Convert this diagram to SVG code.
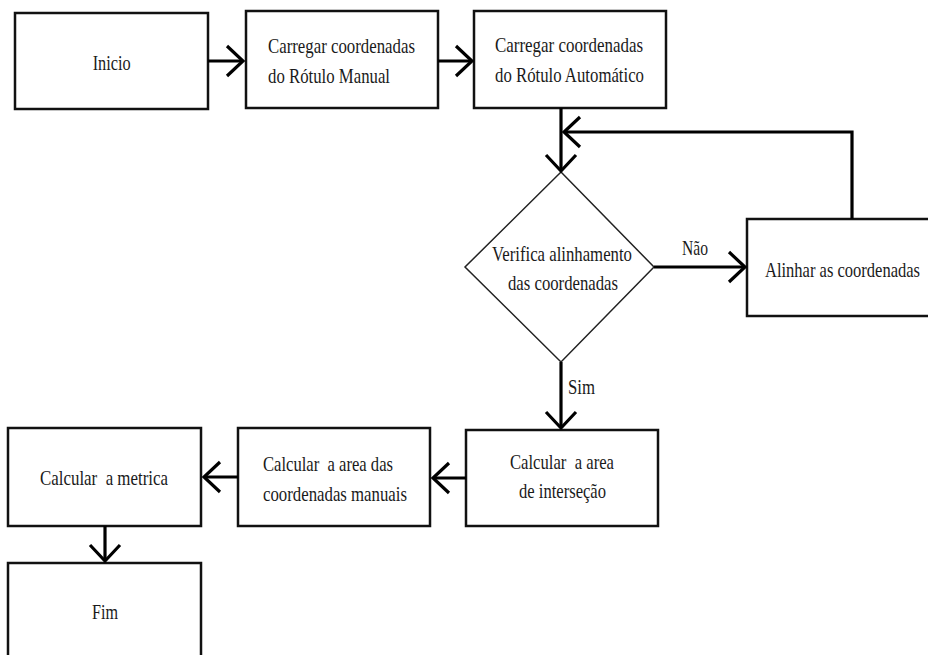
<svg xmlns="http://www.w3.org/2000/svg" width="928" height="655" viewBox="0 0 928 655">
<defs>
<style>
.box{fill:#fff;stroke:#111;stroke-width:2.5}
.dia{fill:#fff;stroke:#222;stroke-width:1.5}
text{font-family:'Liberation Serif','Times New Roman',serif;font-size:22px;fill:#1a1a1a;white-space:pre}
.c{fill:none;stroke:#000;stroke-width:3.2}
</style>
<marker id="ah" markerUnits="userSpaceOnUse" markerWidth="40" markerHeight="40" viewBox="-20 -20 40 40" refX="0" refY="0" orient="auto">
<path d="M-16,-15 L0,0 L-16,15" fill="none" stroke="#000" stroke-width="3.2"/>
</marker>
</defs>
<rect width="928" height="655" fill="#fff"/>
<g font-family="Liberation Serif, serif" font-size="22">
<g id="inicio"><rect class="box" x="15" y="13" width="193" height="96"/><text x="92.7" y="70" textLength="38" lengthAdjust="spacingAndGlyphs">Inicio</text></g>
<g id="manual"><rect class="box" x="246" y="11" width="192" height="97"/><text x="268" y="53" textLength="147" lengthAdjust="spacingAndGlyphs">Carregar coordenadas</text><text x="268" y="83" textLength="122" lengthAdjust="spacingAndGlyphs">do Rótulo Manual</text></g>
<g id="automatico"><rect class="box" x="474" y="11" width="192" height="97"/><text x="495" y="52" textLength="148" lengthAdjust="spacingAndGlyphs">Carregar coordenadas</text><text x="495" y="82" textLength="149" lengthAdjust="spacingAndGlyphs">do Rótulo Automático</text></g>
<g id="verifica"><polygon class="dia" points="561,172 654,267 561,362 465,267"/><text x="492" y="261" textLength="140" lengthAdjust="spacingAndGlyphs">Verifica alinhamento</text><text x="508" y="290" textLength="110" lengthAdjust="spacingAndGlyphs">das coordenadas</text></g>
<g id="alinhar"><rect class="box" x="747" y="219" width="190" height="97"/><text x="765" y="277" textLength="155" lengthAdjust="spacingAndGlyphs">Alinhar as coordenadas</text></g>
<g id="intersecao"><rect class="box" x="466" y="430" width="192" height="96"/><text x="510" y="469" textLength="104" lengthAdjust="spacingAndGlyphs">Calcular  a area</text><text x="519" y="498" textLength="87" lengthAdjust="spacingAndGlyphs">de interseção</text></g>
<g id="area_manual"><rect class="box" x="238" y="428" width="192" height="98"/><text x="263" y="471" textLength="130" lengthAdjust="spacingAndGlyphs">Calcular  a area das</text><text x="263" y="501" textLength="144" lengthAdjust="spacingAndGlyphs">coordenadas manuais</text></g>
<g id="metrica"><rect class="box" x="8" y="428" width="193" height="98"/><text x="40" y="485" textLength="128" lengthAdjust="spacingAndGlyphs">Calcular  a metrica</text></g>
<g id="fim"><rect class="box" x="8" y="563" width="193" height="110"/><text x="92" y="619" textLength="26" lengthAdjust="spacingAndGlyphs">Fim</text></g>
<g id="connectors">
<path class="c" d="M208,61 H243" marker-end="url(#ah)"/>
<path class="c" d="M438,61 H472" marker-end="url(#ah)"/>
<path class="c" d="M561,108 V171" marker-end="url(#ah)"/>
<path class="c" d="M654,267 H745" marker-end="url(#ah)"/>
<path class="c" d="M852,219 V132 H564" marker-end="url(#ah)"/>
<path class="c" d="M561,362 V428" marker-end="url(#ah)"/>
<path class="c" d="M466,478 H433" marker-end="url(#ah)"/>
<path class="c" d="M238,477 H204" marker-end="url(#ah)"/>
<path class="c" d="M105,526 V561" marker-end="url(#ah)"/>
<text x="682" y="255" textLength="26" lengthAdjust="spacingAndGlyphs">Não</text>
<text x="568" y="394" textLength="27" lengthAdjust="spacingAndGlyphs">Sim</text>
</g>
</g>
</svg>
